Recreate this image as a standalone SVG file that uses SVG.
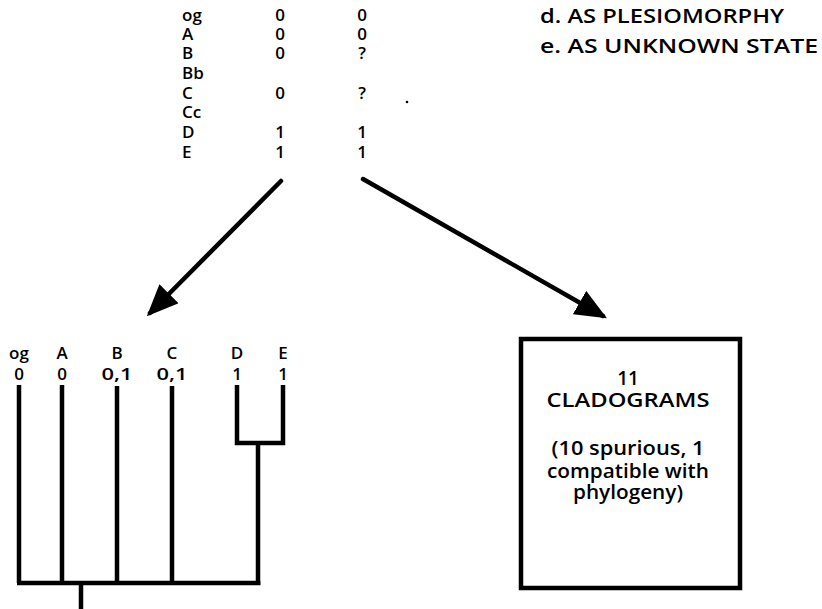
<svg xmlns="http://www.w3.org/2000/svg" width="822" height="609" viewBox="0 0 822 609">
  <style>
    .t { font-family: "Open Sans", "Lato", "Liberation Sans", sans-serif; font-weight: 600; fill: #000; }
    .tbl { font-size: 17px; }
    .lab { font-size: 20px; }
    .tree { font-size: 17px; text-anchor: middle; }
    .box { font-size: 19px; text-anchor: middle; }
    .stroke { stroke: #000; stroke-width: 4.5; fill: none; }
    .arrow { stroke: #000; stroke-width: 4.5; fill: none; stroke-linecap: round; }
  </style>
  <defs>
    <marker id="head" markerWidth="7" markerHeight="6" refX="6" refY="3" orient="auto" markerUnits="strokeWidth">
      <path d="M0,0 L7,3 L0,6 Z" fill="#000"/>
    </marker>
  </defs>
  <rect width="822" height="609" fill="#fff"/>

  <!-- case labels -->
  <g id="labels" class="t lab">
    <text x="540" y="23" textLength="244" lengthAdjust="spacingAndGlyphs">d. AS PLESIOMORPHY</text>
    <text x="540" y="53" textLength="278" lengthAdjust="spacingAndGlyphs">e. AS UNKNOWN STATE</text>
  </g>

  <!-- character matrix -->
  <g id="matrix" class="t tbl">
    <text x="182" y="21">og</text>
    <text x="182" y="40">A</text>
    <text x="182" y="59">B</text>
    <text x="182" y="79">Bb</text>
    <text x="182" y="99">C</text>
    <text x="182" y="118">Cc</text>
    <text x="182" y="138">D</text>
    <text x="182" y="158">E</text>
    <g text-anchor="middle">
      <text x="280" y="21">0</text>
      <text x="280" y="40">0</text>
      <text x="280" y="59">0</text>
      <text x="280" y="99">0</text>
      <text x="280" y="138">1</text>
      <text x="280" y="158">1</text>
      <text x="362" y="21">0</text>
      <text x="362" y="40">0</text>
      <text x="362" y="59">?</text>
      <text x="362" y="99">?</text>
      <text x="362" y="138">1</text>
      <text x="362" y="158">1</text>
    </g>
    <circle cx="407" cy="102" r="1.3" fill="#000"/>
  </g>

  <!-- connectors -->
  <g id="connectors" class="arrow">
    <line x1="281" y1="181" x2="150" y2="313" marker-end="url(#head)"/>
    <line x1="363" y1="179" x2="603" y2="316" marker-end="url(#head)"/>
  </g>

  <!-- cladogram -->
  <g id="cladogram">
    <g class="t tree">
      <text x="19" y="359">og</text>
      <text x="62" y="359">A</text>
      <text x="117" y="359">B</text>
      <text x="172" y="359">C</text>
      <text x="237" y="359">D</text>
      <text x="283" y="359">E</text>
      <text x="19" y="380">0</text>
      <text x="62" y="380">0</text>
      <text x="117" y="380" textLength="31" lengthAdjust="spacingAndGlyphs">0,1</text>
      <text x="172" y="380" textLength="31" lengthAdjust="spacingAndGlyphs">0,1</text>
      <text x="237" y="380">1</text>
      <text x="283" y="380">1</text>
    </g>
    <path class="stroke" d="M19,385 V583 M62,385 V583 M117,386 V583 M172,386 V583 M17,583 H260.5 M81,583 V609 M237,385 V443 H283 V385 M258,443 V583"/>
  </g>

  <!-- result box -->
  <g id="result">
    <rect class="stroke" x="521" y="339" width="219" height="249"/>
    <g class="t box">
      <text x="628" y="385">11</text>
      <text x="628" y="407" textLength="163" lengthAdjust="spacingAndGlyphs">CLADOGRAMS</text>
      <text x="628" y="455" textLength="153" lengthAdjust="spacingAndGlyphs">(10 spurious, 1</text>
      <text x="628" y="478" textLength="162" lengthAdjust="spacingAndGlyphs">compatible with</text>
      <text x="628" y="499" textLength="110" lengthAdjust="spacingAndGlyphs">phylogeny)</text>
    </g>
  </g>
</svg>
